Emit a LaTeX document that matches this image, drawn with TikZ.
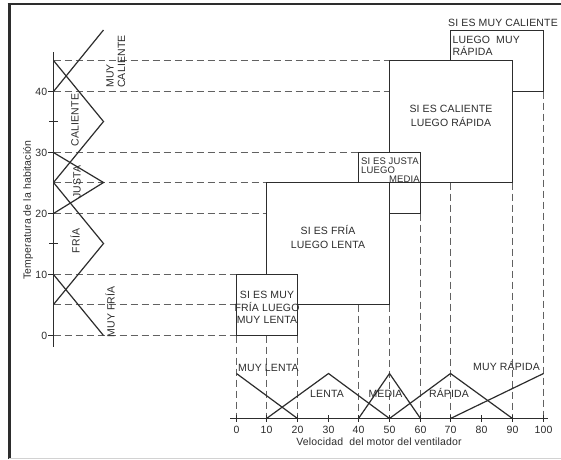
\documentclass[tikz,border=0pt]{standalone}
\usepackage{fontspec}
\setmainfont[LetterSpace=1.5]{Liberation Sans}
\definecolor{ink}{RGB}{45,45,45}
\tikzset{
  ln/.style={draw=ink, line width=1.2pt, line join=miter},
  dsh/.style={draw=ink!75, line width=1pt, dash pattern=on 7pt off 4pt},
  lbl/.style={text=ink, inner sep=0pt, font=\fontsize{10.5}{12}\selectfont},
  sml/.style={text=ink, inner sep=0pt, font=\fontsize{9.5}{10}\selectfont},
}
\begin{document}
\begin{tikzpicture}[x=1pt,y=-1pt]
\useasboundingbox (0,0) rectangle (561,459);
\fill[white] (0,0) rectangle (561,459);
% frame
\draw[ink, line width=3pt] (9,3) -- (9,459);
\draw[ink, line width=2pt] (7.5,4) -- (561,4);
\draw[gray!35, line width=0.8pt] (9,458) -- (561,458);

% dashed guide lines
\foreach \y/\xe in {60.5/389.5, 91.5/389.5, 152.5/358.5, 182.5/266.5, 213.5/266.5, 274.5/236.5, 304.5/236.5, 335.5/236.5}
  \draw[dsh] (53.5,\y) -- (\xe,\y);
\foreach \x/\ys in {236.5/335.5, 266.5/335.5, 297.5/335.5, 358.5/304.5, 389.5/304.5, 420.5/213.5, 450.5/182.5, 512.5/182.5, 543.5/91.5}
  \draw[dsh] (\x,\ys) -- (\x,418.5);

% rule boxes
\draw[ln] (236.5,274.5) rectangle (297.5,335.5);
\draw[ln] (266.5,274.5) -- (266.5,182.5) -- (512.5,182.5);
\draw[ln] (389.5,152.5) -- (389.5,60.5) -- (512.5,60.5) -- (512.5,182.5);
\draw[ln] (450.5,60.5) -- (450.5,30.5) -- (543.5,30.5) -- (543.5,91.5) -- (512.5,91.5);
\draw[ln] (358.5,182.5) -- (358.5,152.5) -- (420.5,152.5) -- (420.5,213.5) -- (389.5,213.5);
\draw[ln] (389.5,182.5) -- (389.5,304.5) -- (297.5,304.5);

% axes
\draw[ln] (53.5,52) -- (53.5,347);
\draw[ln] (230,418.5) -- (548,418.5);
\foreach \x in {236.5,266.5,297.5,328.5,358.5,389.5,420.5,450.5,481.5,512.5,543.5}
  \draw[ink, line width=1pt] (\x,415) -- (\x,422);
\foreach \y in {335.5,274.5,213.5,152.5,91.5}
  \draw[ink, line width=1pt] (48,\y) -- (53.5,\y);
\foreach \y in {243.5,121.5}
  \draw[ink, line width=1pt] (49,\y) -- (58,\y);

% membership functions: temperature
\draw[ln] (103.5,335.5) -- (53.5,274.5);
\draw[ln] (53.5,304.5) -- (103.5,243.5) -- (53.5,182.5);
\draw[ln] (53.5,213.5) -- (103.5,182.5) -- (53.5,152.5);
\draw[ln] (53.5,182.5) -- (103.5,121.5) -- (53.5,60.5);
\draw[ln] (53.5,91.5) -- (103.5,30);

% membership functions: speed
\draw[ln] (236.5,373.5) -- (297.5,418.5);
\draw[ln] (266.5,418.5) -- (328.5,373.5) -- (389.5,418.5);
\draw[ln] (358.5,418.5) -- (389.5,373.5) -- (420.5,418.5);
\draw[ln] (389.5,418.5) -- (450.5,373.5) -- (512.5,418.5);
\draw[ln] (450.5,418.5) -- (543.5,373.5);

% axis numbers
\foreach \x [count=\i from 0] in {236.5,266.5,297.5,328.5,358.5,389.5,420.5,450.5,481.5,512.5,543.5}{
  \pgfmathtruncatemacro{\v}{10*\i}
  \node[lbl, anchor=base] (xn\i) at (\x,433) {\v};
}
\foreach \v/\y in {0/335.5,10/274.5,20/213.5,30/152.5,40/91.5}
  \node[lbl, anchor=east] (yn\v) at (47.5,\y) {\v};

% axis titles
\node[lbl, rotate=90] (ylab) at (28,210) {Temperatura de la habitación};
\node[lbl, anchor=base] (xlab) at (379,445) {Velocidad\ \ del motor del ventilador};

% temperature labels
\node[lbl, rotate=90] (lcal) at (75,120) {CALIENTE};
\node[lbl, rotate=90] (ljus) at (77,182) {JUSTA};
\node[lbl, rotate=90] (lfri) at (75,241) {FRÍA};
\node[lbl, rotate=90] (lmf) at (110,312) {MUY FRÍA};
\node[lbl, rotate=90, anchor=base west] (lmc1) at (113.5,88) {MUY};
\node[lbl, rotate=90, anchor=base west] (lmc2) at (125,88) {CALIENTE};

% speed labels
\node[lbl, anchor=base west] (bml) at (238,371) {MUY LENTA};
\node[lbl, anchor=base] (bl) at (327,397) {LENTA};
\node[lbl, anchor=base] (bm) at (385.5,397) {MEDIA};
\node[lbl, anchor=base] (br) at (449,397) {RÁPIDA};
\node[lbl, anchor=base east] (bmr) at (540,370) {MUY RÁPIDA};

% rule texts
\node[lbl, anchor=base] (t1a) at (267,298) {SI ES MUY};
\node[lbl, anchor=base] (t1b) at (267,311) {FRÍA LUEGO};
\node[lbl, anchor=base] (t1c) at (267,323) {MUY LENTA};
\node[lbl, anchor=base] (t2a) at (328,234) {SI ES FRÍA};
\node[lbl, anchor=base] (t2b) at (328,248) {LUEGO LENTA};
\node[sml, anchor=base west] (t3a) at (361,164) {SI ES JUSTA};
\node[sml, anchor=base west] (t3b) at (361,173) {LUEGO};
\node[sml, anchor=base east] (t3c) at (420,182) {MEDIA};
\node[lbl, anchor=base] (t4a) at (451,112) {SI ES CALIENTE};
\node[lbl, anchor=base] (t4b) at (451,126) {LUEGO RÁPIDA};
\node[lbl, anchor=base] (t5a) at (503,26) {SI ES MUY CALIENTE};
\node[lbl, anchor=base west] (t5b) at (452.5,43) {LUEGO\ \ MUY};
\node[lbl, anchor=base west] (t5c) at (452.5,55) {RÁPIDA};
\end{tikzpicture}
\end{document}
